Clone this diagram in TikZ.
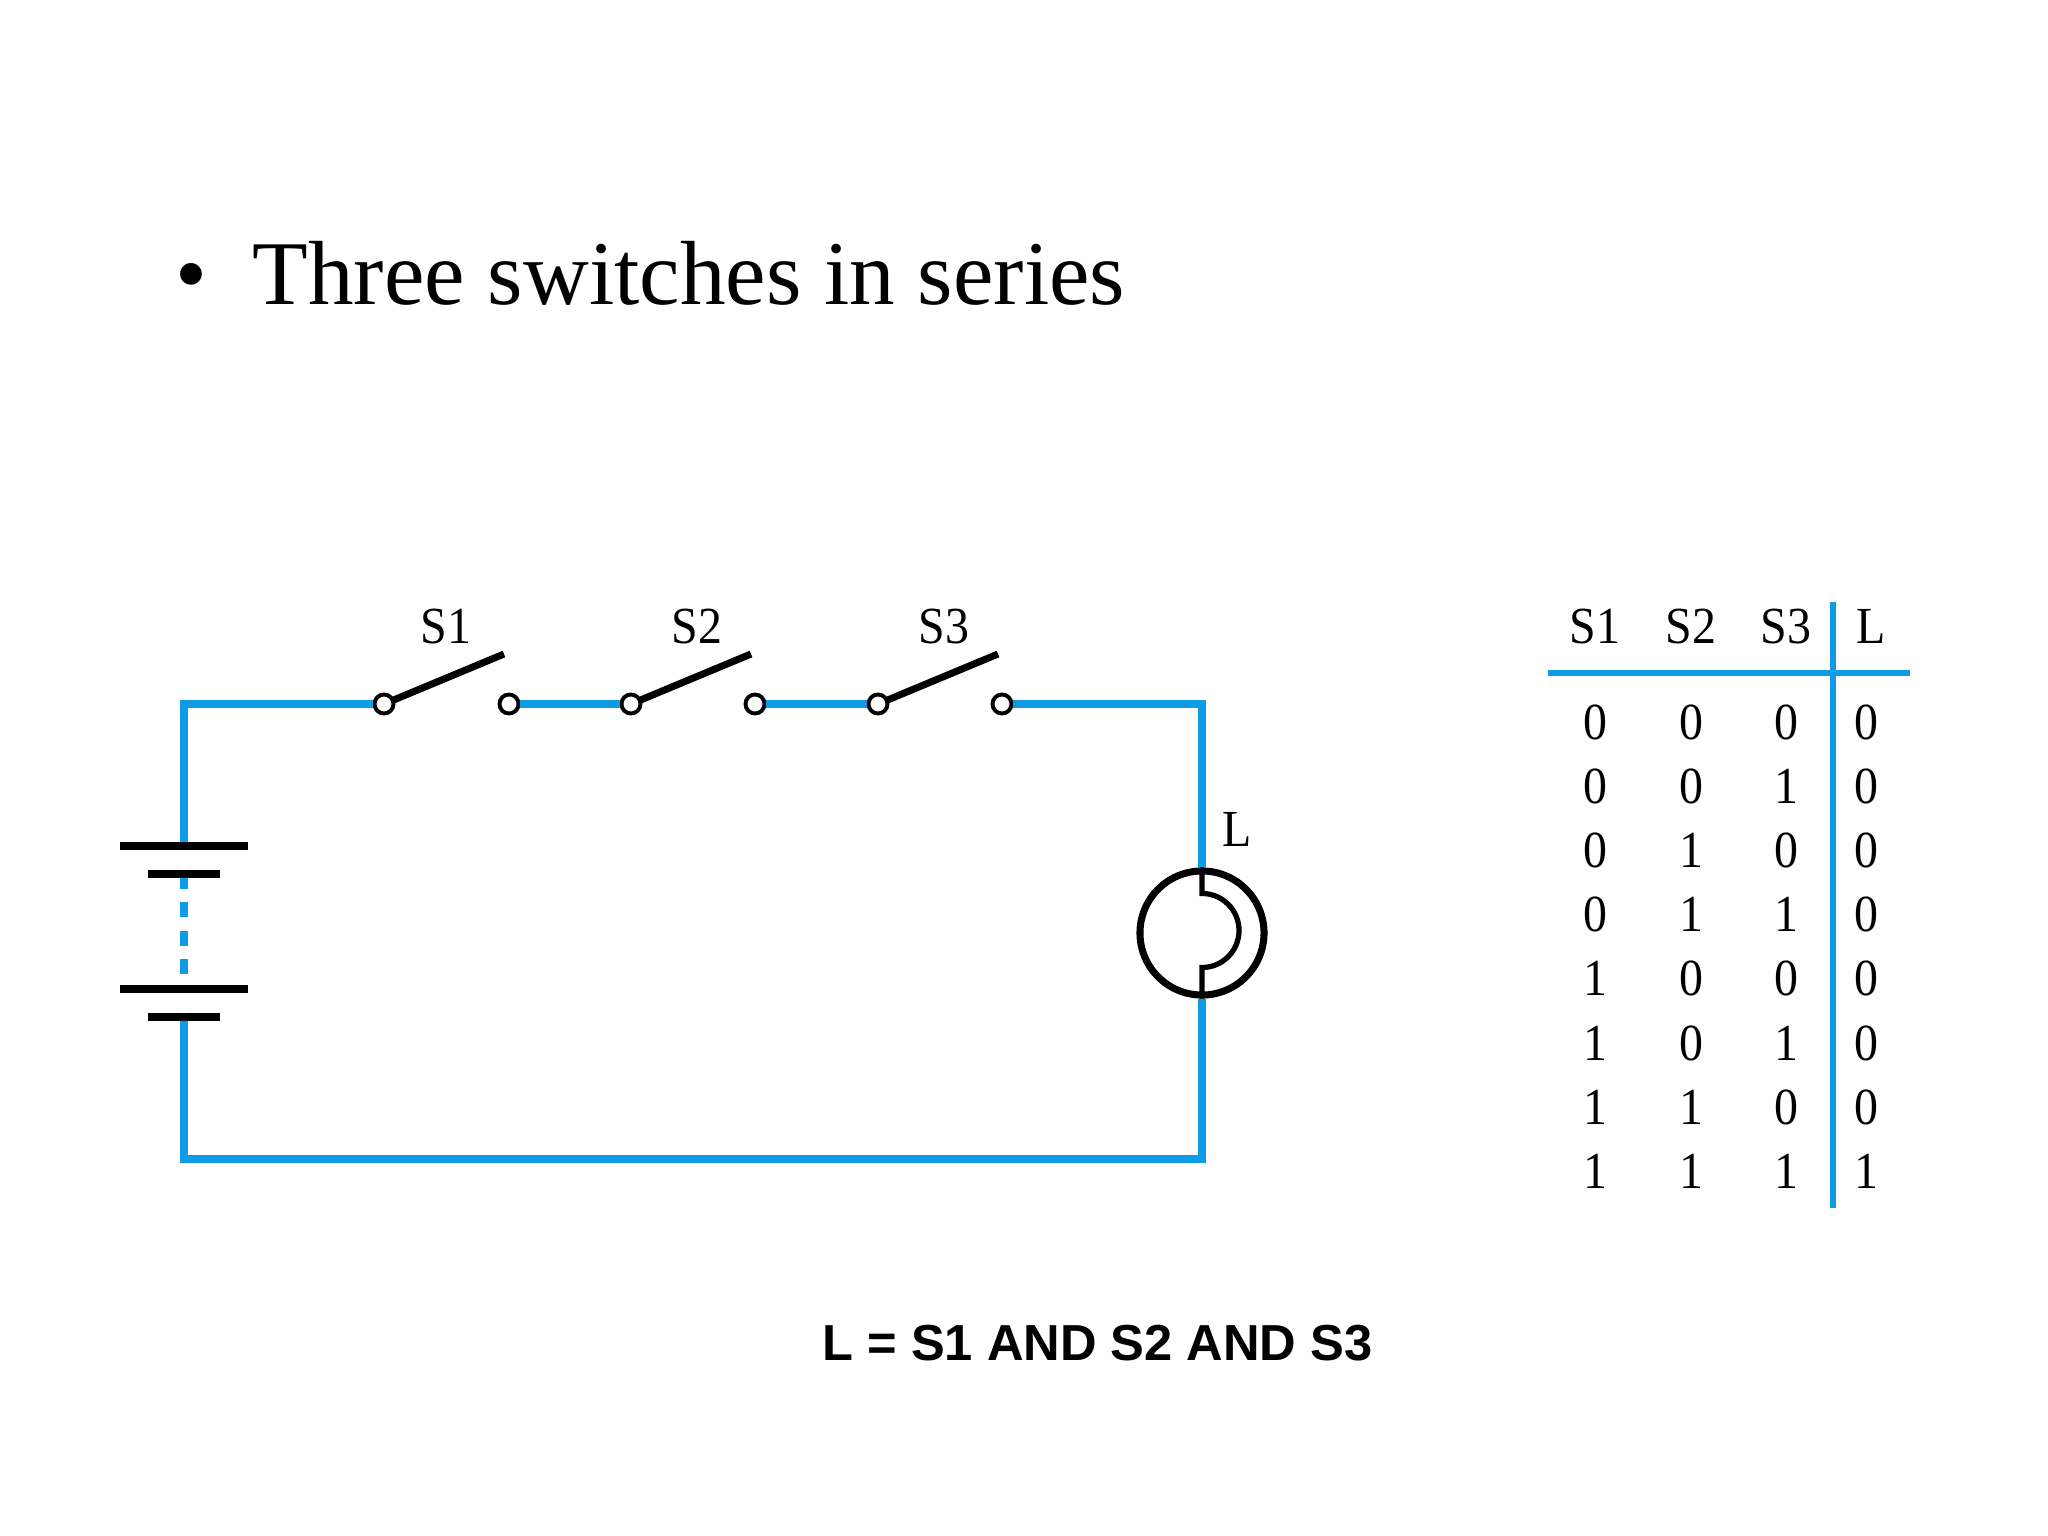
\documentclass[tikz,border=0pt]{standalone}
\usepackage{fontspec}
\setmainfont{Liberation Serif}
\newfontfamily\boldsans{Liberation Sans}
\newfontfamily\narrowserif[FakeStretch=0.92]{Liberation Serif}
\usepackage{xcolor}
\definecolor{wireblue}{HTML}{0F9BE6}
\tikzset{
    wire/.style={wireblue, line width=2.1pt},
    plate/.style={black, line width=2pt},
    terminal/.style={circle, draw=black, fill=white, line width=1.1pt, minimum size=0.19cm, inner sep=0pt, outer sep=0.55pt},
    lbl/.style={anchor=base, inner sep=0pt, font=\narrowserif\fontsize{14.8}{17}\selectfont}
}
\begin{document}
\begin{tikzpicture}[x=0.01cm, y=-0.01cm]
        \useasboundingbox (0,0) rectangle (2048,1536);
        \node[anchor=base, inner sep=0pt, font=\fontsize{25.9}{30}\selectfont] (bullet) at (191,304) {•};
        \node[anchor=base west, inner sep=0pt, font=\fontsize{25.9}{30}\selectfont] (title) at (252,304) {Three switches in series};
        % switches
        \foreach \n/\xa/\xb/\xl in {1/384/509/446, 2/631/755/697, 3/878/1002/944} {
            \draw[black, line width=2pt] (\xa,704)--++(120,-50);
            \node[terminal] (s\n a) at (\xa,704) {};
            \node[terminal] (s\n b) at (\xb,704) {};
            \node[lbl] (s\n) at (\xl,643) {S\n};
        }
        % lamp
        \node[circle, draw=black, line width=2pt, minimum size=1.24cm, inner sep=0pt, outer sep=1pt] (lamp) at (1202,933) {};
        \node[lbl] (lamplbl) at (1237,846) {L};
        \draw[black, line width=1.5pt] (lamp.north)--([yshift=-0.26cm]lamp.north)
            arc[start angle=90, end angle=-90, radius=0.37cm]--(lamp.south);
        % wires
        \coordinate (p1) at (184,846); \coordinate (p2) at (184,874);
        \coordinate (p3) at (184,975); \coordinate (p4) at (184,1017);
        \coordinate (q) at (184,1159); \coordinate (k) at (184,704);
        \draw[wire] (p1)--(k)--(s1a.west);
        \draw[wire] (s1b.east)--(s2a.west);
        \draw[wire] (s2b.east)--(s3a.west);
        \draw[wire] (s3b.east)-|(lamp.north);
        \draw[wire] (p4)--(q)-|(lamp.south);
        \draw[wire, dash pattern=on 4.2pt off 3.9pt] (p2)--(p3);
        % battery
        \draw[plate] (120,846)--(248,846);
        \draw[plate] (148,874)--(220,874);
        \draw[plate] (120,989)--(248,989);
        \draw[plate] (148,1017)--(220,1017);
        % truth table
        \draw[wire, line width=1.5pt] (1548,673)--(1910,673);
        \draw[wire, line width=1.5pt] (1833,602)--(1833,1208);
        \node[lbl] (h1) at (1595,643) {S1};
        \node[lbl] (h2) at (1691,643) {S2};
        \node[lbl] (h3) at (1786,643) {S3};
        \node[lbl] (h4) at (1871,643) {L};
        \foreach \a/\b/\c/\l [count=\i from 0] in {0/0/0/0, 0/0/1/0, 0/1/0/0, 0/1/1/0, 1/0/0/0, 1/0/1/0, 1/1/0/0, 1/1/1/1} {
            \node[lbl] (r\i a) at (1595,739+64.2*\i) {\a};
            \node[lbl] (r\i b) at (1691,739+64.2*\i) {\b};
            \node[lbl] (r\i c) at (1786,739+64.2*\i) {\c};
            \node[lbl] (r\i l) at (1866,739+64.2*\i) {\l};
        }
        \node[inner sep=0pt, font=\boldsans\bfseries\fontsize{14.4}{17}\selectfont] (eqn) at (1097.5,1343) {L = S1 AND S2 AND S3};
    \end{tikzpicture}
\end{document}
